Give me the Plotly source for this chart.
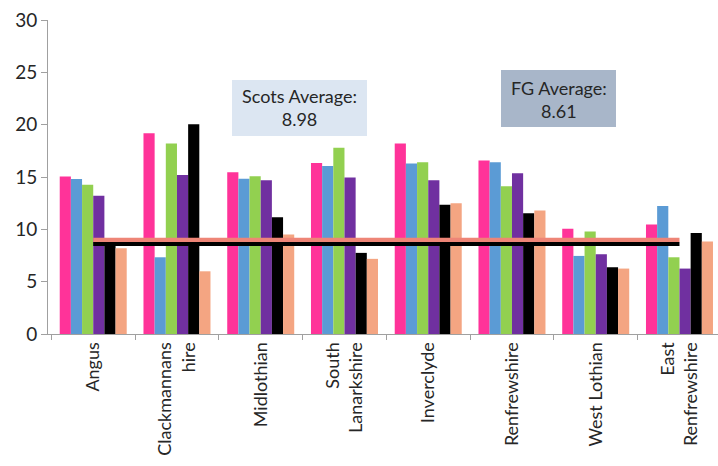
import plotly.graph_objects as go

categories = ["Angus", "Clackmannans<br>hire", "Midlothian", "South<br>Lanarkshire",
              "Inverclyde", "Renfrewshire", "West Lothian", "East<br>Renfrewshire"]

series_names = ["Series 1", "Series 2", "Series 3", "Series 4", "Series 5", "Series 6"]
series_pink = [15.05, 19.17, 15.46, 16.33, 18.21, 16.58, 10.05, 10.47]
series_blue = [14.8, 7.33, 14.83, 16.04, 16.3, 16.42, 7.46, 12.22]
series_green = [14.25, 18.2, 15.08, 17.8, 16.42, 14.12, 9.79, 7.33]
series_purple = [13.2, 15.2, 14.7, 14.96, 14.7, 15.37, 7.62, 6.25]
series_black = [8.5, 20.03, 11.16, 7.75, 12.34, 11.54, 6.37, 9.66]
series_salmon = [8.19, 5.99, 9.5, 7.18, 12.5, 11.8, 6.25, 8.83]

colors = ["#FF3399", "#5B9BD5", "#92D050", "#7030A0", "#000000", "#F4A582"]

scots_avg = 8.98
fg_avg = 8.61

all_series = [series_pink, series_blue, series_green, series_purple, series_black, series_salmon]

fig = go.Figure()
for name, vals, col in zip(series_names, all_series, colors):
    fig.add_trace(go.Bar(x=categories, y=vals, name=name, marker=dict(color=col, line=dict(width=0))))

fig.add_trace(go.Scatter(x=categories, y=[scots_avg] * len(categories), mode="lines",
                         line=dict(color="#EE8577", width=4.5), name="Scots Average"))
fig.add_trace(go.Scatter(x=categories, y=[fg_avg] * len(categories), mode="lines",
                         line=dict(color="#000000", width=4), name="FG Average"))

font_family = "Lato, Carlito, sans-serif"
text_color = "#262626"

fig.add_shape(type="rect", xref="x", yref="y", x0=1.657, x1=3.269, y0=18.92, y1=24.27,
              fillcolor="#DCE6F2", line=dict(width=0), layer="above")
fig.add_shape(type="rect", xref="x", yref="y", x0=4.869, x1=6.242, y0=19.78, y1=25.22,
              fillcolor="#A8B6C9", line=dict(width=0), layer="above")

fig.add_annotation(x=2.463, y=21.6, xref="x", yref="y", showarrow=False,
                   text=f"Scots Average:<br>{scots_avg:.2f}",
                   font=dict(family=font_family, size=18, color=text_color))
fig.add_annotation(x=5.556, y=22.45, xref="x", yref="y", showarrow=False,
                   text=f"FG Average:<br>{fg_avg:.2f}",
                   font=dict(family=font_family, size=18, color=text_color))

fig.update_layout(
    width=718, height=466,
    margin=dict(l=48, r=0, t=20, b=132),
    paper_bgcolor="white", plot_bgcolor="white",
    barmode="group", bargap=0.2, bargroupgap=0,
    showlegend=False,
    font=dict(family=font_family, size=18, color=text_color),
)
fig.update_xaxes(
    range=[-0.54, 7.46], tickangle=-90, showline=True, linecolor="#A0A0A0", linewidth=1,
    ticks="outside", tickson="boundaries", ticklen=5, tickcolor="#A0A0A0",
    tickfont=dict(family=font_family, size=18, color=text_color), showgrid=False,
)
fig.update_yaxes(
    range=[0, 30], tickvals=[0, 5, 10, 15, 20, 25, 30], showline=True, linecolor="#A0A0A0",
    linewidth=1, ticks="outside", ticklen=6, tickcolor="#A0A0A0", showgrid=False, zeroline=False,
    tickfont=dict(family=font_family, size=19, color=text_color),
)

fig.write_html("out.html")
